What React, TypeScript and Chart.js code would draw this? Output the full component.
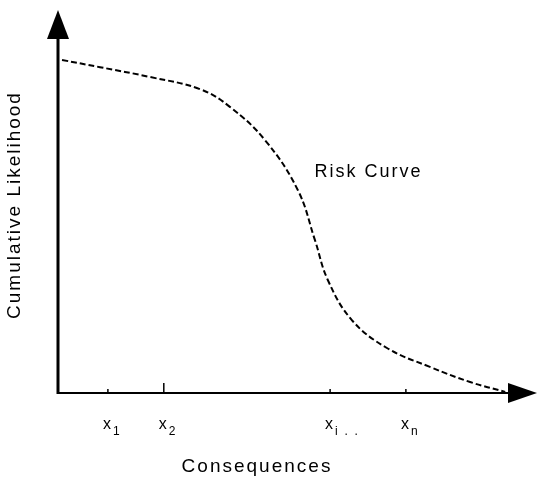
import React, { useEffect, useRef } from "react";
import { Chart, registerables } from "chart.js";

Chart.register(...registerables);

const curveX = [0.87, 9.09, 19.9, 30.7, 37.2, 44.8, 51.9, 55.6, 58.4, 63.6, 71.2, 80.5, 89.2, 96.8];
const curveY = [88.1, 86.2, 83.6, 80.4, 75.7, 66.9, 53.7, 40.5, 29.9, 19.3, 11.9, 6.9, 2.9, 0.3];
const tickValues = [10.8, 22.9, 58.9, 75.3];
const tickMain = ["x", "x", "x", "x"];
const tickSub = ["1", "2", "i  .  .", "n"];
const xTitle = "Consequences";
const yTitle = "Cumulative Likelihood";
const curveLabel = "Risk Curve";
const curveLabelPos = { x: 55.5, y: 58.5 };

const FONT = "'Liberation Sans', Arial, sans-serif";

const axesPlugin = {
  id: "axesPlugin",
  afterDraw(chart: any) {
    const { ctx, chartArea } = chart;
    const xs = chart.scales.x;
    const ys = chart.scales.y;
    const left = chartArea.left;
    const bottom = chartArea.bottom;
    ctx.save();
    ctx.fillStyle = "#000";
    ctx.strokeStyle = "#000";
    // y axis
    ctx.lineWidth = 3;
    ctx.beginPath();
    ctx.moveTo(left, bottom + 1);
    ctx.lineTo(left, 30);
    ctx.stroke();
    ctx.beginPath();
    ctx.moveTo(left, 10);
    ctx.lineTo(left - 11, 39);
    ctx.lineTo(left + 11, 39);
    ctx.closePath();
    ctx.fill();
    // x axis
    ctx.lineWidth = 2;
    ctx.beginPath();
    ctx.moveTo(left, bottom);
    ctx.lineTo(515, bottom);
    ctx.stroke();
    ctx.beginPath();
    ctx.moveTo(537, bottom);
    ctx.lineTo(508, bottom - 10);
    ctx.lineTo(508, bottom + 10);
    ctx.closePath();
    ctx.fill();
    // ticks and labels
    ctx.lineWidth = 1.5;
    tickValues.forEach((v, i) => {
      const px = xs.getPixelForValue(v);
      ctx.beginPath();
      ctx.moveTo(px, bottom);
      ctx.lineTo(px, bottom - (i === 1 ? 10 : 4));
      ctx.stroke();
      ctx.font = "16px " + FONT;
      ctx.textAlign = "left";
      ctx.textBaseline = "alphabetic";
      const mw = ctx.measureText(tickMain[i]).width;
      const x0 = px - 5;
      ctx.fillText(tickMain[i], x0, 429);
      ctx.font = "12px " + FONT;
      ctx.fillText(tickSub[i], x0 + mw + 2, 435);
    });
    // titles
    ctx.font = "19px " + FONT;
    (ctx as any).letterSpacing = "2px";
    ctx.textAlign = "center";
    ctx.textBaseline = "middle";
    ctx.fillText(xTitle, 257, 467);
    ctx.save();
    ctx.translate(15, 205);
    ctx.rotate(-Math.PI / 2);
    ctx.fillText(yTitle, 0, 0);
    ctx.restore();
    // curve label
    ctx.font = "18px " + FONT;
    ctx.textAlign = "left";
    ctx.fillText(curveLabel, xs.getPixelForValue(curveLabelPos.x), ys.getPixelForValue(curveLabelPos.y));
    (ctx as any).letterSpacing = "0px";
    ctx.restore();
  },
};

export default function App() {
  const ref = useRef<HTMLCanvasElement>(null);
  useEffect(() => {
    document.body.style.margin = "0";
    const data = curveX.map((x, i) => ({ x, y: curveY[i] }));
    const chart = new Chart(ref.current!, {
      type: "line",
      data: {
        datasets: [
          {
            data,
            borderColor: "#000",
            borderWidth: 2,
            borderDash: [6, 3],
            pointRadius: 0,
            tension: 0.4,
            fill: false,
          } as any,
        ],
      },
      options: {
        animation: false,
        responsive: false,
        maintainAspectRatio: false,
        layout: { padding: { left: 58, top: 15, right: 18, bottom: 90 } },
        plugins: { legend: { display: false }, tooltip: { enabled: false } },
        scales: {
          x: { type: "linear", min: 0, max: 100, display: false },
          y: { type: "linear", min: 0, max: 100, display: false },
        },
      },
      plugins: [axesPlugin],
    });
    return () => chart.destroy();
  }, []);
  return (
    <div style={{ width: 538, height: 483, background: "#fff" }}>
      <canvas ref={ref} width={538} height={483} style={{ display: "block" }} />
    </div>
  );
}
